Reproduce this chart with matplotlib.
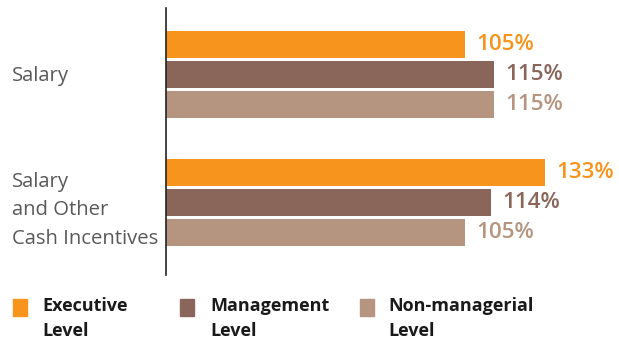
import matplotlib
matplotlib.use("Agg")
import matplotlib.pyplot as plt
import numpy as np

categories = ["Salary", "Salary\nand Other\nCash Incentives"]
series_names = ["Executive\nLevel", "Management\nLevel", "Non-managerial\nLevel"]
values = {
    "Executive\nLevel": [105, 133],
    "Management\nLevel": [115, 114],
    "Non-managerial\nLevel": [115, 105],
}
colors = ["#F7941D", "#8A665A", "#B5957F"]

plt.rcParams['font.family'] = ['Open Sans', 'DejaVu Sans']

fig = plt.figure(figsize=(6.19, 3.41), dpi=100)
ax = fig.add_axes([166/619, 1-275/341, 1-166/619, 267/341])

unit_px = 30.0  # pixels per y data unit
group_pos = np.arange(len(categories)) * 4.267
for i, (name, col) in enumerate(zip(series_names, colors)):
    ys = group_pos + (i - 1)
    vals = values[name]
    ax.barh(ys, vals, height=0.9, color=col, edgecolor='none')
    for y, v in zip(ys, vals):
        ax.text(v + 4, y, f"{v}%", va='center', ha='left', color=col,
                fontsize=16.2, fontweight='semibold')

ax.set_xlim(0, 159)
ax.set_ylim(group_pos[-1] + 2.417, -2.217)
ax.set_yticks(group_pos)
ax.set_yticklabels([])

line_px = 28.8
for y, c in zip(group_pos, categories):
    lines = c.split("\n")
    n = len(lines)
    offset = 6.5 + 3.25 * (n - 1)
    for k, ln in enumerate(lines):
        yy = y + ((k - (n - 1) / 2) * line_px + offset) / unit_px
        ax.text(-154/2.85, yy, ln, ha='left', va='baseline', fontsize=14.6,
                color='#595959')

ax.tick_params(left=False, bottom=False, labelbottom=False)
for s in ['top', 'right', 'bottom']:
    ax.spines[s].set_visible(False)
ax.spines['left'].set_color('#222222')
ax.spines['left'].set_linewidth(1.2)

# legend
leg_x = [13, 180, 360]
leg_tx = [42, 210, 388]
for name, col, sx, tx in zip(series_names, colors, leg_x, leg_tx):
    fig.patches.append(plt.Rectangle((sx/619, 1-316/341), 14/619, 17/341,
                                     transform=fig.transFigure, color=col))
    fig.text(tx/619, 1-297/341, name, ha='left', va='top', fontsize=13,
             fontweight='bold', color='#1a1a1a', linespacing=1.5)

fig.savefig("out.png", dpi=100)
